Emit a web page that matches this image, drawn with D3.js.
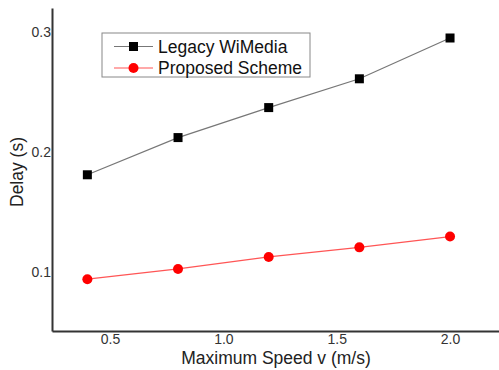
<!DOCTYPE html>
<html>
<head>
    <title>delay vs speed</title>
    <script src="https://d3js.org/d3.v7.min.js"></script>
    <style>
        body { margin: 0; background: #fff; }
        text { font-family: "Liberation Sans", Arial, sans-serif; }
    </style>
</head>
<body>
    <svg id="chart" width="499" height="370"></svg>
    <script>

var speeds = [0.4, 0.8, 1.2, 1.6, 2.0];
var legacyDelay = [0.181, 0.212, 0.237, 0.261, 0.295];
var proposedDelay = [0.094, 0.1025, 0.1125, 0.1205, 0.1295];
var xTicks = [0.5, 1.0, 1.5, 2.0];
var yTicks = [0.1, 0.2, 0.3];
var seriesNames = ["Legacy WiMedia", "Proposed Scheme"];

var svg = d3.select('#chart');

// plot area
var x = d3.scaleLinear().domain([0.244, 2.216]).range([52, 499]);
var y = d3.scaleLinear().domain([0.0508, 0.32]).range([331, 8]);

var xAxis = d3.axisBottom(x).tickValues(xTicks).tickFormat(d3.format('.1f')).tickSize(0).tickPadding(3);
var yAxis = d3.axisLeft(y).tickValues(yTicks).tickFormat(d3.format('.1f')).tickSize(0).tickPadding(1);

var gx = svg.append('g').attr('transform', 'translate(0,331)').call(xAxis);
var gy = svg.append('g').attr('transform', 'translate(52,0)').call(yAxis);

[gx, gy].forEach(function (g) {
    g.select('.domain').attr('stroke', '#333').attr('stroke-width', 2);
    g.selectAll('text').attr('font-size', 14).attr('fill', '#333')
        .attr('font-family', '"Liberation Sans", Arial, sans-serif');
});

svg.append('text')
    .attr('x', 276).attr('y', 364)
    .attr('text-anchor', 'middle')
    .attr('font-size', 17.5).attr('fill', '#222')
    .text('Maximum Speed v (m/s)');

svg.append('text')
    .attr('transform', 'translate(23,172) rotate(-90)')
    .attr('text-anchor', 'middle')
    .attr('font-size', 17.5).attr('fill', '#222')
    .text('Delay (s)');

var line = d3.line()
    .x(function (d) { return x(d[0]) })
    .y(function (d) { return y(d[1]) });

var legacy = speeds.map(function (s, i) { return [s, legacyDelay[i]] });
var proposed = speeds.map(function (s, i) { return [s, proposedDelay[i]] });

svg.append('path').datum(legacy)
    .attr('d', line).attr('fill', 'none')
    .attr('stroke', '#777').attr('stroke-width', 1.2);

svg.selectAll('rect.legacy').data(legacy).enter().append('rect')
    .attr('class', 'legacy')
    .attr('x', function (d) { return x(d[0]) - 4.5 })
    .attr('y', function (d) { return y(d[1]) - 4.5 })
    .attr('width', 9).attr('height', 9)
    .attr('fill', '#000');

svg.append('path').datum(proposed)
    .attr('d', line).attr('fill', 'none')
    .attr('stroke', '#f55').attr('stroke-width', 1.2);

svg.selectAll('circle.proposed').data(proposed).enter().append('circle')
    .attr('class', 'proposed')
    .attr('cx', function (d) { return x(d[0]) })
    .attr('cy', function (d) { return y(d[1]) })
    .attr('r', 5)
    .attr('fill', '#f00');

// legend
var legend = svg.append('g');
legend.append('rect')
    .attr('x', 102).attr('y', 33).attr('width', 208).attr('height', 44)
    .attr('fill', '#fff').attr('stroke', '#888').attr('stroke-width', 1);

seriesNames.forEach(function (name, i) {
    var cy = 46.5 + i * 21.5;
    legend.append('line')
        .attr('x1', 114).attr('x2', 153).attr('y1', cy).attr('y2', cy)
        .attr('stroke', i === 0 ? '#777' : '#f55').attr('stroke-width', 1.2);
    if (i === 0) {
        legend.append('rect').attr('x', 129).attr('y', cy - 4.5)
            .attr('width', 9).attr('height', 9).attr('fill', '#000');
    } else {
        legend.append('circle').attr('cx', 133.5).attr('cy', cy).attr('r', 5).attr('fill', '#f00');
    }
    legend.append('text')
        .attr('x', 158).attr('y', cy + 6)
        .attr('font-size', 17.5).attr('fill', '#111')
        .text(name);
});

    </script>
</body>
</html>
